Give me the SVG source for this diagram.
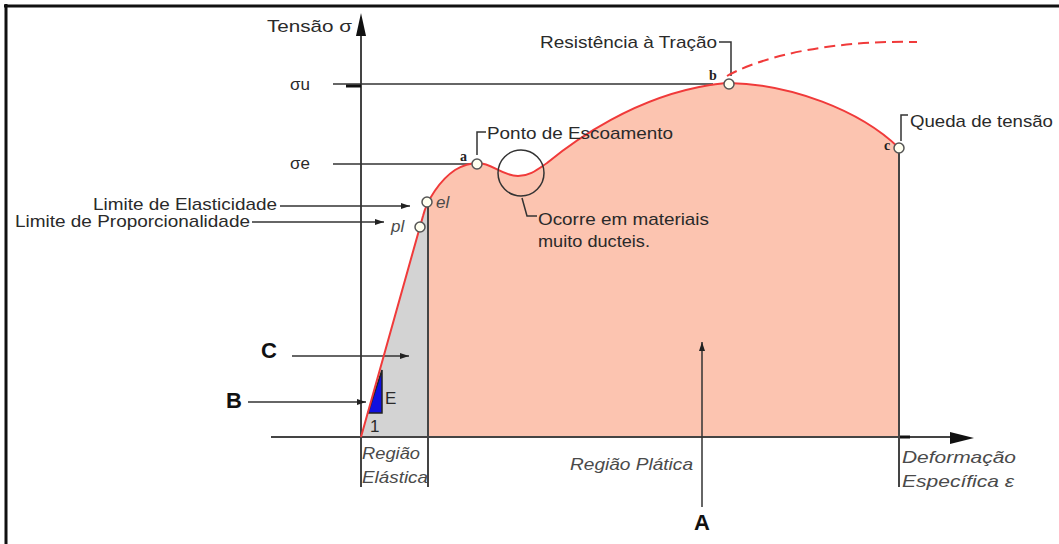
<svg xmlns="http://www.w3.org/2000/svg" width="1059" height="544" viewBox="0 0 1059 544">
<style>
.lbl{font-family:"Liberation Sans",Arial,sans-serif;font-size:17px;fill:#2a2a2a}
.it{font-family:"Liberation Sans",Arial,sans-serif;font-size:17px;font-style:italic;fill:#4a4a4a}
.big{font-family:"Liberation Sans",Arial,sans-serif;font-size:22px;font-weight:bold;fill:#111}
.pt{font-family:"Liberation Serif",serif;font-size:14px;font-weight:bold;fill:#222}
.ax{stroke:#444;stroke-width:2;fill:none}
.ld{stroke:#333;stroke-width:1.5;fill:none}
.ar{stroke:#333;stroke-width:1.5;fill:none;marker-end:url(#ah)}
.mk{fill:#fffff0;stroke:#555;stroke-width:1.5}
</style>
<defs>
<marker id="ah" markerWidth="10" markerHeight="8" refX="9" refY="4" orient="auto" markerUnits="userSpaceOnUse">
<path d="M0,1 L9,4 L0,7 Z" fill="#222"/>
</marker>
</defs>
<rect width="1059" height="544" fill="#fff"/>
<g id="frame">
<line x1="4" y1="6" x2="1059" y2="6" stroke="#111" stroke-width="3"/>
<line x1="6" y1="4" x2="6" y2="544" stroke="#111" stroke-width="3"/>
</g>
<g id="areas">
<path d="M361,437 L423,216 C427,200 440,180 455,170 C465,164 472,163 478,163 C492,163 502,176 518,176 C530,176 538,169 547,163 C575,140 635,97 710,85 C718,84 724,83 729,83 C790,84 860,110 899,148 L899,437 Z" fill="#fcc4b0"/>
<path d="M361,437 L423,216 C424,212 426,207 428,203 L428,437 Z" fill="#d3d3d3"/>
<polygon points="368,413 382,413 382,370" fill="#1010e0" stroke="#222" stroke-width="1.5"/>
</g>
<g id="connectors">
<line class="ax" x1="361" y1="487" x2="361" y2="34"/>
<polygon points="361,13 356,36 366,36" fill="#111"/>
<line class="ax" x1="271" y1="437" x2="952" y2="437"/>
<polygon points="974,438 950,432 950,444" fill="#111"/>
<line x1="899" y1="437" x2="910" y2="437" stroke="#111" stroke-width="3"/>
<line class="ax" x1="428" y1="207" x2="428" y2="487"/>
<line class="ax" x1="899" y1="152" x2="899" y2="487"/>
<line class="ld" x1="333" y1="84" x2="713" y2="84"/>
<line x1="346" y1="86" x2="361" y2="86" stroke="#111" stroke-width="3"/>
<line class="ld" x1="333" y1="164" x2="471" y2="164"/>
<line class="ar" x1="280" y1="206" x2="410" y2="206"/>
<line class="ar" x1="252" y1="222" x2="384" y2="222"/>
<line class="ar" x1="292" y1="356" x2="409" y2="356"/>
<line class="ar" x1="248" y1="402" x2="366" y2="402"/>
<line class="ar" x1="702" y1="507" x2="702" y2="342"/>
<path class="ld" d="M486,132 L477,132 L477,155"/>
<path class="ld" d="M719,42 L731,42 L731,76"/>
<path class="ld" d="M908,115 L901,115 L901,141"/>
<path class="ld" d="M522,198 L527,216 L537,216"/>
</g>
<g id="curve">
<path d="M361,437 L423,216 C427,200 440,180 455,170 C465,164 472,163 478,163 C492,163 502,176 518,176 C530,176 538,169 547,163 C575,140 635,97 710,85 C718,84 724,83 729,83 C790,84 860,110 899,148" fill="none" stroke="#f03a3a" stroke-width="2"/>
<path d="M727,76 C755,60 820,40 917,42" fill="none" stroke="#f03a3a" stroke-width="2" stroke-dasharray="11,6"/>
<circle cx="521" cy="173" r="23" fill="none" stroke="#333" stroke-width="1.5"/>
</g>
<g id="point-pl"><circle class="mk" cx="420" cy="227" r="5"/><text class="it" x="391" y="232" font-size="15">pl</text></g>
<g id="point-el"><circle class="mk" cx="427" cy="202" r="5"/><text class="it" x="436" y="208" font-size="15">el</text></g>
<g id="point-a"><circle class="mk" cx="477" cy="164" r="5"/><text class="pt" x="460" y="161">a</text></g>
<g id="point-b"><circle class="mk" cx="729" cy="84" r="5"/><text class="pt" x="709" y="80">b</text></g>
<g id="point-c"><circle class="mk" cx="899" cy="148" r="5"/><text class="pt" x="884" y="150">c</text></g>
<g id="axis-y"><text class="lbl" x="267" y="32" textLength="85" lengthAdjust="spacingAndGlyphs">Tensão σ</text></g>
<g id="sigma-u"><text class="lbl" x="290" y="90">σu</text></g>
<g id="sigma-e"><text class="lbl" x="290" y="169">σe</text></g>
<g id="lim-elast"><text class="lbl" x="93" y="210" textLength="184" lengthAdjust="spacingAndGlyphs">Limite de Elasticidade</text></g>
<g id="lim-prop"><text class="lbl" x="15" y="227" textLength="235" lengthAdjust="spacingAndGlyphs">Limite de Proporcionalidade</text></g>
<g id="escoamento"><text class="lbl" x="487" y="139" textLength="186" lengthAdjust="spacingAndGlyphs">Ponto de Escoamento</text></g>
<g id="tracao"><text class="lbl" x="540" y="48" textLength="177" lengthAdjust="spacingAndGlyphs">Resistência à Tração</text></g>
<g id="queda"><text class="lbl" x="910" y="127" textLength="143" lengthAdjust="spacingAndGlyphs">Queda de tensão</text></g>
<g id="ocorre"><text class="lbl" x="538" y="225" textLength="171" lengthAdjust="spacingAndGlyphs">Ocorre em materiais</text><text class="lbl" x="538" y="247" textLength="112" lengthAdjust="spacingAndGlyphs">muito ducteis.</text></g>
<g id="modulo"><text class="lbl" x="385" y="404" font-size="16">E</text><text class="lbl" x="370" y="432" font-size="15">1</text></g>
<g id="reg-elastica"><text class="it" x="362" y="459" textLength="58" lengthAdjust="spacingAndGlyphs">Região</text><text class="it" x="362" y="483" textLength="66" lengthAdjust="spacingAndGlyphs">Elástica</text></g>
<g id="reg-plastica"><text class="it" x="570" y="470" textLength="123" lengthAdjust="spacingAndGlyphs">Região Plática</text></g>
<g id="axis-x"><text class="it" x="902" y="463" textLength="114" lengthAdjust="spacingAndGlyphs">Deformação</text><text class="it" x="902" y="487" textLength="112" lengthAdjust="spacingAndGlyphs">Específica ε</text></g>
<g id="label-C"><text class="big" x="261" y="358">C</text></g>
<g id="label-B"><text class="big" x="226" y="408">B</text></g>
<g id="label-A"><text class="big" x="694" y="530">A</text></g>
</svg>
